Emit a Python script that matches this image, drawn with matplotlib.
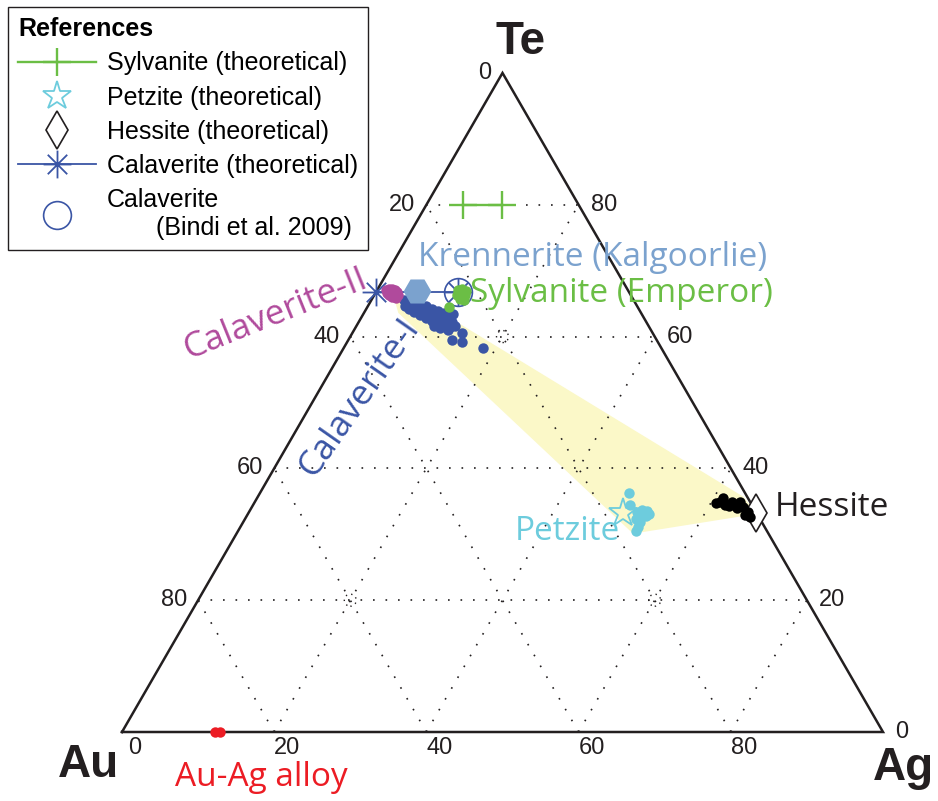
import numpy as np
import matplotlib.pyplot as plt
from matplotlib.path import Path
from matplotlib.patches import Polygon, Circle

# atomic %, Au = 100 - Ag - Te
grid_vals = [20, 40, 60, 80]
tick_vals = [0, 20, 40, 60, 80]

calaverite1_ag = [4.3, 4.9, 4.9, 5.1, 5.8, 5.6, 6.3, 6.9, 6.5, 6.7, 7.3, 7.8, 7.5, 7.6, 8.2,
                  8.8, 8.5, 8.7, 9.2, 9.8, 9.6, 9.6, 10.2, 10.7, 10.6, 10.5, 11.1, 11.7, 11.5,
                  11.7, 12.3, 12.4, 12.3, 11.8, 13.0, 11.1, 10.2, 13.6, 14.4, 15.1, 18.3]
calaverite1_te = [65.6, 65.1, 64.6, 65.4, 64.8, 64.2, 64.6, 64.0, 63.7, 65.0, 64.3, 63.7, 63.3,
                  64.6, 64.0, 63.4, 62.8, 64.2, 63.6, 63.0, 62.4, 63.9, 63.3, 62.7, 61.9, 63.6,
                  63.0, 62.4, 61.6, 62.8, 62.2, 61.5, 61.0, 63.4, 61.6, 61.3, 61.6, 59.5, 60.6,
                  59.2, 58.3]
calaverite2_ag = [1.2, 1.5, 1.9, 2.3, 2.8, 3.1, 3.1, 2.5, 1.9, 1.5, 2.3, 2.7]
calaverite2_te = [67.1, 67.2, 67.2, 67.1, 66.8, 66.3, 65.9, 66.0, 66.3, 66.6, 66.6, 66.3]
sylvanite_ag = [10.6, 11.1, 11.7, 11.9, 11.3, 10.9, 11.6, 12.2, 11.6, 10.7]
sylvanite_te = [67.1, 67.2, 66.9, 66.3, 66.5, 66.3, 65.7, 65.6, 66.2, 64.5]
petzite_ag = [48.5, 49.5, 51.0, 51.5, 52.2, 52.5, 51.9, 51.4, 52.1, 52.3, 52.3, 52.7]
petzite_te = [36.3, 34.5, 33.4, 33.7, 33.5, 32.8, 32.6, 32.3, 31.9, 31.1, 30.5, 33.1]
hessite_ag = [60.6, 61.2, 62.0, 62.7, 63.8, 64.5, 65.6, 66.2, 63.8, 61.1, 62.6, 65.4]
hessite_te = [34.8, 35.5, 34.5, 34.9, 34.9, 34.1, 33.4, 32.6, 34.0, 34.9, 34.3, 32.9]
alloy_ag = [12.2, 12.9]
alloy_te = [0.0, 0.0]

# reference compositions
sylv_theo_ag, sylv_theo_te = [4.8, 9.9], [80.0, 80.0]
calav_theo_ag, calav_theo_te = [0.0, 10.8], [66.7, 66.7]
bindi_ag, bindi_te = [10.8], [66.7]
krennerite_ag, krennerite_te = [5.3], [66.9]
petz_theo_ag, petz_theo_te = [49.2], [33.2]
hess_theo_ag, hess_theo_te = [66.7], [33.3]

# shaded field
field_ag = [2.5, 10.8, 63.8, 66.9, 52.1, 4.5]
field_te = [66.3, 63.3, 35.7, 33.1, 30.1, 63.6]

GREEN = '#6BBE45'
CYAN = '#6DCCDD'
BLUE = '#3A55A5'
MAGENTA = '#B04A9C'
KREN = '#7BA2CE'
RED = '#EC1C24'
YELLOW = '#FBF8C8'
INK = '#231F20'


def tern(ag, te):
    ag = np.asarray(ag, float) / 100
    te = np.asarray(te, float) / 100
    return ag + te / 2, te * np.sqrt(3) / 2


W, H = 938, 801
S = 761.0  # pixels per unit side
fig = plt.figure(figsize=(W / 100, H / 100), dpi=100)
ax = fig.add_axes([0, 0, 1, 1])
ax.set_xlim(-122 / S, (W - 122) / S)
ax.set_ylim(-(H - 732) / S, 732 / S)
ax.axis('off')

P = 1 / S  # one pixel in data units
TICKFONT = 'Liberation Sans'
NOTEFONT = 'Open Sans'

# grid
for v in grid_vals:
    segs = [([0, 100 - v], [v, v]),            # constant Te
            ([v, v], [0, 100 - v]),            # constant Ag
            ([100 - v, 0], [0, 100 - v])]      # constant Au
    for ag, te in segs:
        x, y = tern(ag, te)
        ax.plot(x, y, color=INK, lw=1.2, ls=(0, (1, 6.5)), zorder=1.2)

for ag, te in [(20, 60), (20, 20), (60, 20)]:
    x, y = tern(ag, te)
    ax.add_patch(Circle((float(x), float(y)), 6 * P, fill=False, ec=INK, lw=1.0,
                        ls=(0, (1, 3)), zorder=1.2))

# shaded field
fx, fy = tern(field_ag, field_te)
ax.add_patch(Polygon(np.column_stack([fx, fy]), closed=True, fc=YELLOW, ec='none', zorder=1))

# triangle
tx, ty = tern([0, 100, 0, 0], [0, 0, 100, 0])
ax.plot(tx, ty, color=INK, lw=1.8, zorder=2, solid_joinstyle='miter')

# tick labels
for v in tick_vals:
    x, y = tern(0, 100 - v)          # left edge
    ax.text(x - 11 * P, y, str(v), ha='right', va='center', fontsize=17, family=TICKFONT, color=INK)
    x, y = tern(100 - v, v)          # right edge
    ax.text(x + 12 * P, y, str(v), ha='left', va='center', fontsize=17, family=TICKFONT, color=INK)
    x, y = tern(v, 0)                # base
    ax.text(x + 13 * P, y - 16 * P, str(v), ha='center', va='center', fontsize=17,
            family=TICKFONT, color=INK)

# reference compositions
asterisk = Path([(-1, 0), (1, 0), (0, -1), (0, 1), (-.7, -.7), (.7, .7), (-.7, .7), (.7, -.7)],
                [Path.MOVETO, Path.LINETO] * 4)
h_sylv, = ax.plot(*tern(sylv_theo_ag, sylv_theo_te), '-', marker='+', color=GREEN, ms=20,
                  mew=1.7, lw=1.7, zorder=4)
h_petz, = ax.plot(*tern(petz_theo_ag, petz_theo_te), ls='none', marker='*', ms=21, mfc='none',
                  mec=CYAN, mew=1.3, zorder=4)
h_hess, = ax.plot(*tern(hess_theo_ag, hess_theo_te), ls='none', marker='d', ms=19, mfc='white',
                  mec=INK, mew=1.2, zorder=4)
h_calav, = ax.plot(*tern(calav_theo_ag, calav_theo_te), '-', marker=asterisk, color=BLUE, ms=20,
                   mew=1.3, lw=1.3, zorder=4)
h_bindi, = ax.plot(*tern(bindi_ag, bindi_te), ls='none', marker='o', ms=20, mfc='none',
                   mec=BLUE, mew=1.2, zorder=4)

# analyses
dot = dict(ls='none', marker='o', ms=7.5, mew=0, zorder=5)
ax.plot(*tern(calaverite1_ag, calaverite1_te), color=BLUE, **dot)
ax.plot(*tern(calaverite2_ag, calaverite2_te), color=MAGENTA, **dot)
ax.plot(*tern(krennerite_ag, krennerite_te), ls='none', marker='H', ms=20, color=KREN, mew=0, zorder=5)
ax.plot(*tern(sylvanite_ag, sylvanite_te), color=GREEN, **dot)
ax.plot(*tern(petzite_ag, petzite_te), color=CYAN, **dot)
ax.plot(*tern(hessite_ag, hessite_te), color='black', **dot)
ax.plot(*tern(alloy_ag, alloy_te), color=RED, **dot)

# vertex labels
fig.text(521 / W, 1 - 42 / H, 'Te', ha='center', va='center', fontsize=33, weight='bold',
         family=TICKFONT, color=INK)
fig.text(88 / W, 1 - 765 / H, 'Au', ha='center', va='center', fontsize=33, weight='bold',
         family=TICKFONT, color=INK)
fig.text(903 / W, 1 - 768 / H, 'Ag', ha='center', va='center', fontsize=33, weight='bold',
         family=TICKFONT, color=INK)

# mineral labels
note = dict(fontsize=24, family=NOTEFONT, va='center')
fig.text(418 / W, 1 - 258 / H, 'Krennerite (Kalgoorlie)', color=KREN, ha='left', **note)
fig.text(470 / W, 1 - 293 / H, 'Sylvanite (Emperor)', color=GREEN, ha='left', **note)
fig.text(567 / W, 1 - 532 / H, 'Petzite', color=CYAN, ha='center', **note)
fig.text(775 / W, 1 - 507 / H, 'Hessite', color=INK, ha='left', **note)
fig.text(261 / W, 1 - 778 / H, 'Au-Ag alloy', color=RED, ha='center', **note)
note['fontsize'] = 25.5
fig.text(276 / W, 1 - 314 / H, 'Calaverite-II', color=MAGENTA, ha='center', rotation=22, **note)
fig.text(360 / W, 1 - 397 / H, 'Calaverite-I', color=BLUE, ha='center', rotation=55, **note)

leg = ax.legend([h_sylv, h_petz, h_hess, h_calav, h_bindi],
                ['Sylvanite (theoretical)', 'Petzite (theoretical)', 'Hessite (theoretical)',
                 'Calaverite (theoretical)', 'Calaverite\n       (Bindi et al. 2009)'],
                title='References', loc='upper left', bbox_to_anchor=(8 / W, 1 - 7 / H),
                bbox_transform=fig.transFigure, borderaxespad=0, numpoints=1,
                prop={'family': TICKFONT, 'size': 18},
                title_fontproperties={'family': TICKFONT, 'weight': 'bold', 'size': 18},
                handlelength=3.1, handletextpad=0.45, labelspacing=0.41, borderpad=0.4,
                fancybox=False, edgecolor=INK, framealpha=1, alignment='left')
leg.get_frame().set_linewidth(1.0)
leg.set_zorder(10)

fig.savefig('out.png', dpi=100)
